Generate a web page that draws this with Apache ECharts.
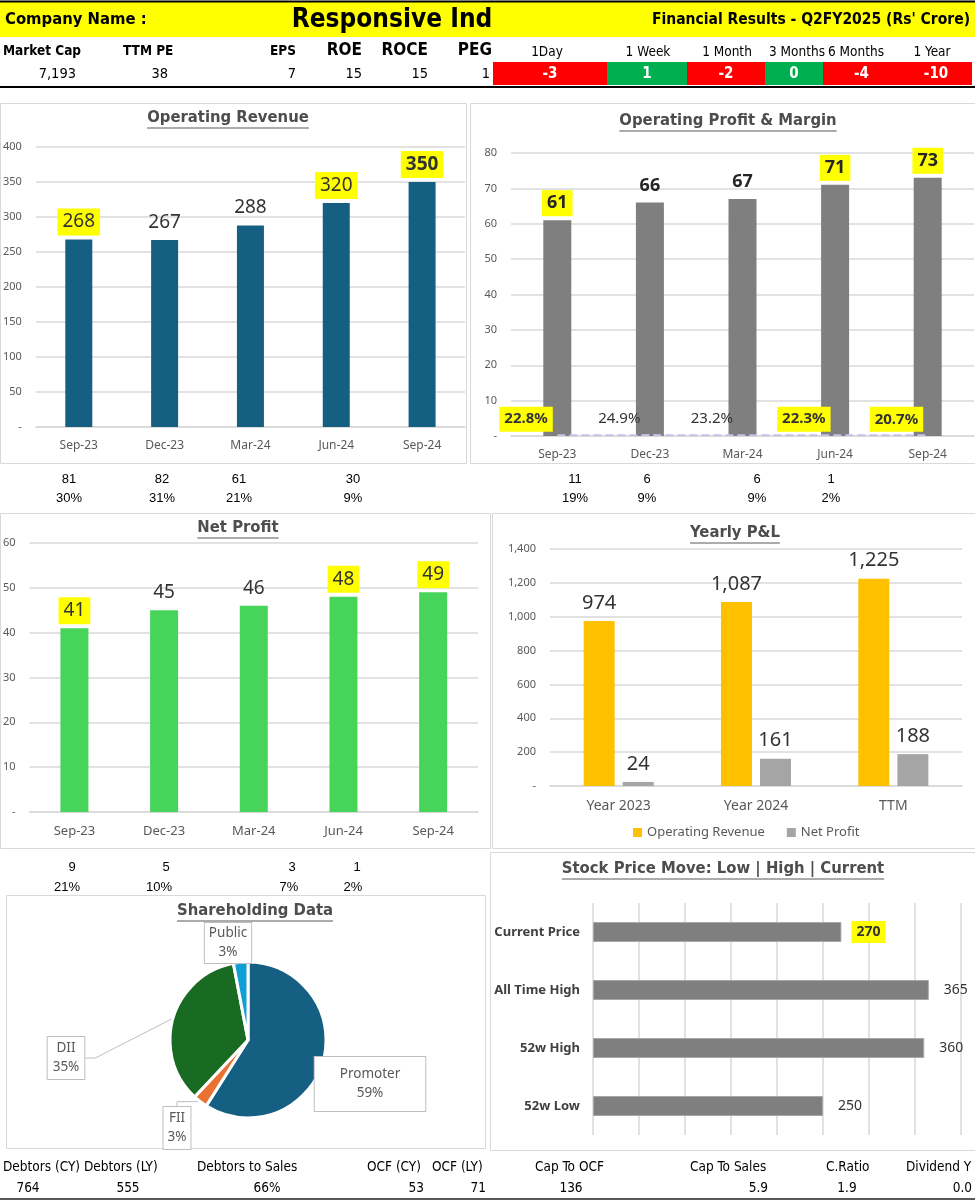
<!DOCTYPE html>
<html>
<head>
<meta charset="utf-8">
<title>Responsive Ind - Financial Results</title>
<script src="https://cdn.jsdelivr.net/npm/echarts/dist/echarts.min.js"></script>
<style>
  html, body { margin: 0; padding: 0; background: #fff; }
  #main { width: 975px; height: 1200px; }
</style>
</head>
<body>
<div id="main"></div>
<script>
// ---- data ----
const quarters = ['Sep-23', 'Dec-23', 'Mar-24', 'Jun-24', 'Sep-24'];
const opRevenue = [268, 267, 288, 320, 350];
const opProfit = [61, 66, 67, 71, 73];
const opMargin = [0.228, 0.249, 0.232, 0.223, 0.207];
const netProfit = [41, 45, 46, 48, 49];

const years = ['Year 2023', 'Year 2024', 'TTM'];
const yearRevenue = [974, 1087, 1225];
const yearProfit = [24, 161, 188];

const holders = ['Promoter', 'FII', 'DII', 'Public'];
const holdingPct = [59, 3, 35, 3];

const priceNames = ['Current Price', 'All Time High', '52w High', '52w Low'];
const priceValues = [270, 365, 360, 250];

const headNames = ['Market Cap', 'TTM PE', 'EPS', 'ROE', 'ROCE', 'PEG'];
const headValues = ['7,193', '38', '7', '15', '15', '1'];
const periods = ['1Day', '1 Week', '1 Month', '3 Months', '6 Months', '1 Year'];
const periodReturns = [-3, 1, -2, 0, -4, -10];

const revChange = [81, 82, 61, 30];
const revChangePct = ['30%', '31%', '21%', '9%'];
const opChange = [11, 6, 6, 1];
const opChangePct = ['19%', '9%', '9%', '2%'];
const npChange = [9, 5, 3, 1];
const npChangePct = ['21%', '10%', '7%', '2%'];

const footNames = ['Debtors (CY)', 'Debtors (LY)', 'Debtors to Sales', 'OCF (CY)', 'OCF (LY)', 'Cap To OCF', 'Cap To Sales', 'C.Ratio', 'Dividend Y'];
const footValues = ['764', '555', '66%', '53', '71', '136', '5.9', '1.9', '0.0'];

// highlighted (yellow) labels
const revHi = [0, 3, 4];
const opHi = [0, 3, 4];
const marginHi = [0, 3, 4];
const npHi = [0, 3, 4];
const priceHi = [0];

// ---- fonts / helpers ----
const NARROW = "'Liberation Sans Narrow','DejaVu Sans Condensed','Arial Narrow',sans-serif";
const SANS = "'Noto Sans','Open Sans',sans-serif";
const ARIAL = "'Liberation Sans',Arial,sans-serif";
const GRID_C = '#d9d9d9';
const AXIS_C = '#595959';

const measure = document.createElement('canvas').getContext('2d');

function text(x, y, s, o = {}) {
  return {
    type: 'text', x: x, y: y, z: 50, silent: true,
    style: {
      text: String(s),
      fill: o.color || '#000',
      font: (o.weight || 'normal') + ' ' + (o.size || 13) + 'px ' + (o.family || ARIAL),
      textAlign: o.align || 'center',
      textVerticalAlign: 'middle'
    }
  };
}

function panelTitle(cx, cy, s) {
  const font = 'bold 16.5px ' + NARROW;
  measure.font = font;
  const w = measure.measureText(s).width;
  return [
    { type: 'text', x: cx, y: cy, z: 50, silent: true,
      style: { text: s, fill: '#4d4d4d', font: font, textAlign: 'center', textVerticalAlign: 'middle' } },
    { type: 'line', z: 50, silent: true,
      shape: { x1: cx - w / 2, y1: cy + 10, x2: cx + w / 2, y2: cy + 10 },
      style: { stroke: AXIS_C, lineWidth: 1 } }
  ];
}

function box(x, y, w, h) {
  return { type: 'rect', z: 1, silent: true, shape: { x: x, y: y, width: w, height: h },
    style: { fill: 'none', stroke: GRID_C, lineWidth: 1 } };
}

function barData(values, hi, boldIdx) {
  return values.map((v, i) => {
    const lab = {};
    if (hi.includes(i)) lab.backgroundColor = '#FFFF00';
    if (boldIdx && boldIdx.includes(i)) lab.fontWeight = 'bold';
    return { value: v, label: lab };
  });
}

function valueAxis(grid, max, interval, fmt) {
  return {
    type: 'value', gridIndex: grid, min: 0, max: max, interval: interval,
    axisLine: { show: false }, axisTick: { show: false },
    splitLine: { lineStyle: { color: GRID_C, width: 1.5 } },
    axisLabel: { color: AXIS_C, fontSize: 11, fontFamily: SANS, margin: 14,
      formatter: fmt || (v => v === 0 ? '-' : v) }
  };
}

function catAxis(grid, cats, size) {
  return {
    type: 'category', gridIndex: grid, data: cats,
    axisLine: { lineStyle: { color: GRID_C, width: 1.5 } }, axisTick: { show: false },
    axisLabel: { color: AXIS_C, fontSize: size || 12, fontFamily: SANS, margin: 13 }
  };
}

// ---- graphic: header, tables, panel borders, titles ----
const g = [];
g.push({ type: 'rect', z: 0, silent: true, shape: { x: 0, y: 2, width: 975, height: 35 }, style: { fill: '#FFFF00' } });
g.push({ type: 'line', z: 2, silent: true, shape: { x1: 0, y1: 1.5, x2: 975, y2: 1.5 }, style: { stroke: '#000', lineWidth: 2 } });
g.push(text(5, 20, 'Company Name :', { weight: 'bold', size: 16.5, family: NARROW, align: 'left' }));
g.push(text(392, 20, 'Responsive Ind', { weight: 'bold', size: 26, family: NARROW }));
g.push(text(970, 20, "Financial Results - Q2FY2025 (Rs' Crore)", { weight: 'bold', size: 15.5, family: NARROW, align: 'right' }));

const headX = [3, 123, 296, 362, 428, 492];
const headAlign = ['left', 'left', 'right', 'right', 'right', 'right'];
const headSize = [13.5, 13.5, 13.5, 17, 17, 17];
const headValX = [76, 168, 296, 362, 428, 490];
headNames.forEach((s, i) => g.push(text(headX[i], 51, s, { weight: 'bold', size: headSize[i], family: NARROW, align: headAlign[i] })));
headValues.forEach((s, i) => g.push(text(headValX[i], 74, s, { size: 14.5, family: NARROW, align: 'right' })));

const periodX = [547, 648, 727, 797, 856, 932];
periods.forEach((s, i) => g.push(text(periodX[i], 52, s, { size: 13.5, family: NARROW })));
const cellEdges = [493, 607, 687, 765, 823, 900, 972];
periodReturns.forEach((v, i) => {
  const x0 = cellEdges[i], x1 = cellEdges[i + 1];
  g.push({ type: 'rect', z: 1, silent: true, shape: { x: x0, y: 62, width: x1 - x0, height: 23 },
    style: { fill: v >= 0 ? '#00B050' : '#FF0000' } });
  g.push(text((x0 + x1) / 2, 74, v, { weight: 'bold', size: 15, family: NARROW, color: '#fff' }));
});
g.push({ type: 'line', z: 2, silent: true, shape: { x1: 0, y1: 87, x2: 975, y2: 87 }, style: { stroke: '#000', lineWidth: 2 } });

// panel borders
g.push(box(0.5, 103.5, 466, 360));
g.push(box(470.5, 103.5, 510, 360));
g.push(box(0.5, 513.5, 490, 335));
g.push(box(492.5, 513.5, 490, 335));
g.push(box(6.5, 895.5, 479, 253));
g.push(box(490.5, 852.5, 490, 298));

// titles
g.push(...panelTitle(228, 118, 'Operating Revenue'));
g.push(...panelTitle(728, 121, 'Operating Profit & Margin'));
g.push(...panelTitle(238, 528, 'Net Profit'));
g.push(...panelTitle(735, 533, 'Yearly P&L'));
g.push(...panelTitle(255, 911, 'Shareholding Data'));
g.push(...panelTitle(723, 869, 'Stock Price Move: Low | High | Current'));

// change rows under charts
const revRowX = [69, 162, 239, 353];
revChange.forEach((v, i) => g.push(text(revRowX[i], 479, v)));
revChangePct.forEach((v, i) => g.push(text(revRowX[i], 498, v)));
const opRowX = [575, 647, 757, 831];
opChange.forEach((v, i) => g.push(text(opRowX[i], 479, v)));
opChangePct.forEach((v, i) => g.push(text(opRowX[i], 498, v)));
const npRowX = [[72, 67], [166, 159], [292, 289], [357, 353]];
npChange.forEach((v, i) => g.push(text(npRowX[i][0], 867, v)));
npChangePct.forEach((v, i) => g.push(text(npRowX[i][1], 887, v)));

// footer table
const footX = [3, 84, 197, 367, 432, 535, 690, 826, 906];
footNames.forEach((s, i) => g.push(text(footX[i], 1167, s, { size: 13.5, family: NARROW, align: 'left' })));
const footValX = [28, 128, 267, 424, 486, 571, 768, 847, 972];
const footValAlign = ['center', 'center', 'center', 'right', 'right', 'center', 'right', 'center', 'right'];
footValues.forEach((s, i) => g.push(text(footValX[i], 1188, s, { size: 13.5, family: NARROW, align: footValAlign[i] })));
g.push({ type: 'line', z: 2, silent: true, shape: { x1: 0, y1: 1199, x2: 975, y2: 1199 }, style: { stroke: '#595959', lineWidth: 2 } });

// ---- pie label layout ----
const pieLabelPos = [[370, 1084], [177, 1128], [66, 1058], [228, 943]];
const pieLabelPad = [[8, 25], [2, 4], [2, 5], [1, 4]];
const pieColors = ['#156082', '#E97132', '#196B24', '#0F9ED5'];

const barLabel = { show: true, position: 'top', distance: 4, padding: [4, 5], fontSize: 19, fontFamily: SANS, color: '#333' };

const option = {
  backgroundColor: '#fff',
  animation: false,
  graphic: g,
  legend: {
    data: ['Operating Revenue', 'Net Profit'], left: 628, top: 821,
    itemWidth: 9, itemHeight: 9, itemGap: 22, icon: 'rect',
    textStyle: { color: AXIS_C, fontSize: 13, fontFamily: SANS }
  },
  grid: [
    { left: 35, top: 147, width: 430, height: 280 },
    { left: 511, top: 153, width: 463, height: 283 },
    { left: 26, top: 543, width: 452, height: 269 },
    { left: 550, top: 549, width: 412, height: 237 },
    { left: 593, top: 903, width: 368, height: 232 }
  ],
  xAxis: [
    catAxis(0, quarters),
    catAxis(1, quarters),
    catAxis(2, quarters, 13),
    catAxis(3, years, 14),
    { type: 'value', gridIndex: 4, min: 0, max: 400, interval: 50,
      axisLine: { show: false }, axisTick: { show: false }, axisLabel: { show: false },
      splitLine: { lineStyle: { color: GRID_C, width: 1.5 } } }
  ],
  yAxis: [
    valueAxis(0, 400, 50),
    valueAxis(1, 80, 10),
    valueAxis(2, 60, 10),
    valueAxis(3, 1400, 200, v => v === 0 ? '-' : v.toLocaleString('en-US')),
    { type: 'category', gridIndex: 4, data: priceNames, inverse: true,
      axisLine: { show: false }, axisTick: { show: false },
      axisLabel: { color: '#404040', fontWeight: 'bold', fontSize: 13, fontFamily: SANS, margin: 13 } }
  ],
  series: [
    { type: 'bar', xAxisIndex: 0, yAxisIndex: 0, barWidth: 27,
      itemStyle: { color: '#156082' }, label: barLabel,
      data: barData(opRevenue, revHi, [4]) },
    { type: 'bar', xAxisIndex: 1, yAxisIndex: 1, barWidth: 28,
      itemStyle: { color: '#7F7F7F' }, label: Object.assign({}, barLabel, { fontWeight: 'bold', fontSize: 18, color: '#262626' }),
      data: barData(opProfit, opHi) },
    { type: 'line', xAxisIndex: 1, yAxisIndex: 1, symbol: 'circle', symbolSize: 1, showSymbol: true, z: 5,
      itemStyle: { color: 'rgba(0,0,0,0)' },
      lineStyle: { color: '#cbbfe6', width: 2, type: 'dashed' },
      label: { show: true, position: 'left', distance: 4, offset: [0, -16], padding: [5, 5],
        fontSize: 15, fontFamily: SANS, color: '#333',
        formatter: p => (p.value * 100).toFixed(1) + '%' },
      labelLine: { show: false },
      data: opMargin.map((v, i) => ({ value: v, label: marginHi.includes(i) ? { backgroundColor: '#FFFF00', fontWeight: 'bold' } : {} })) },
    { type: 'bar', xAxisIndex: 2, yAxisIndex: 2, barWidth: 28,
      itemStyle: { color: '#47D45A' }, label: barLabel,
      data: barData(netProfit, npHi) },
    { type: 'bar', name: 'Operating Revenue', xAxisIndex: 3, yAxisIndex: 3, barWidth: 31, barGap: '26%',
      itemStyle: { color: '#FFC000' },
      label: Object.assign({}, barLabel, { fontSize: 20, formatter: p => p.value.toLocaleString('en-US') }),
      data: yearRevenue },
    { type: 'bar', name: 'Net Profit', xAxisIndex: 3, yAxisIndex: 3, barWidth: 31,
      itemStyle: { color: '#A5A5A5' },
      label: Object.assign({}, barLabel, { fontSize: 20 }),
      data: yearProfit },
    { type: 'bar', xAxisIndex: 4, yAxisIndex: 4, barWidth: 20,
      itemStyle: { color: '#7F7F7F', borderColor: '#a6a6a6', borderWidth: 1 },
      label: { show: true, position: 'right', distance: 10, padding: [4, 5], fontSize: 14, fontFamily: SANS, color: '#333' },
      data: barData(priceValues, priceHi, priceHi) },
    { type: 'pie', center: [248, 1040], radius: 78, startAngle: 90, clockwise: true,
      itemStyle: { borderColor: '#fff', borderWidth: 3 },
      label: { show: true, color: AXIS_C, fontSize: 13.5, fontFamily: SANS, lineHeight: 19,
        backgroundColor: '#fff', borderColor: '#bfbfbf', borderWidth: 1, align: 'center',
        formatter: p => p.name + '\n' + p.value + '%' },
      labelLine: { show: true, length: 10, length2: 10, lineStyle: { color: '#bfbfbf' } },
      labelLayout: p => ({ x: pieLabelPos[p.dataIndex][0], y: pieLabelPos[p.dataIndex][1], align: 'center', verticalAlign: 'middle' }),
      data: holders.map((n, i) => ({ name: n, value: holdingPct[i],
        itemStyle: { color: pieColors[i] }, label: { padding: pieLabelPad[i] } })) }
  ]
};

const chart = echarts.init(document.getElementById('main'));
chart.setOption(option);
</script>
</body>
</html>
